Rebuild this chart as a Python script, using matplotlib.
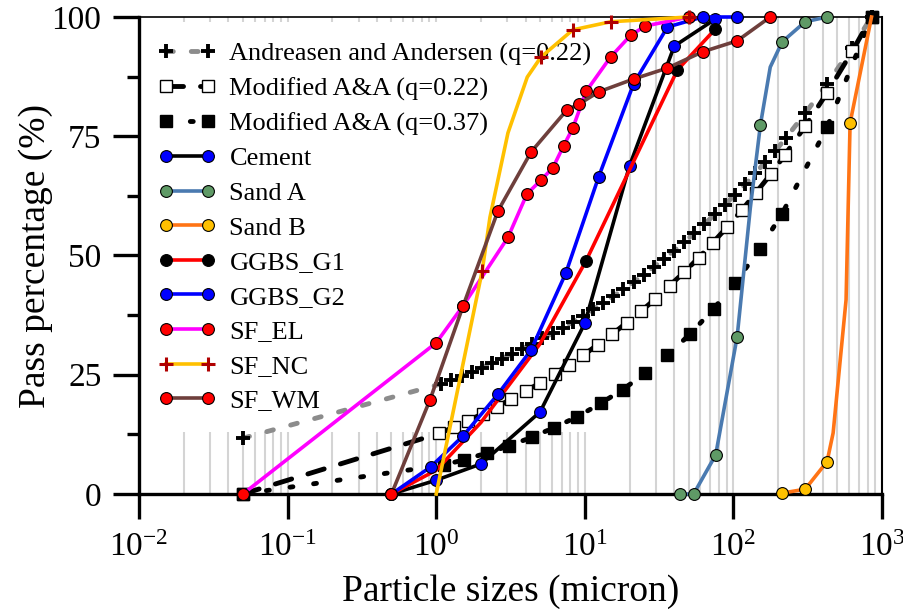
import matplotlib
matplotlib.use("Agg")
import matplotlib.pyplot as plt
from matplotlib.ticker import LogLocator, FixedLocator, NullFormatter

plt.rcParams['font.family'] = ['Liberation Serif', 'DejaVu Serif']
plt.rcParams['mathtext.fontset'] = 'custom'
plt.rcParams['mathtext.rm'] = 'Liberation Serif'
plt.rcParams['mathtext.it'] = 'Liberation Serif:italic'

# Andreasen and Andersen (q=0.22)
aa_x = [0.05, 1.08, 1.26, 1.48, 1.73, 2.02, 2.37, 2.77, 3.24, 3.79, 4.44,
        5.19, 6.07, 7.11, 8.31, 9.73, 11.4, 13.3, 15.6, 18.2, 21.3,
        24.9, 29.2, 34.1, 39.9, 46.7, 54.6, 63.9, 74.8, 87.5, 102,
        120, 140, 164, 192, 225, 304, 427, 630, 850]
aa_y = [11.7, 23.1, 23.9, 24.7, 25.6, 26.5, 27.4, 28.4, 29.4, 30.4, 31.5,
        32.6, 33.7, 34.9, 36.1, 37.4, 38.7, 40.1, 41.5, 42.9, 44.4,
        46.0, 47.6, 49.3, 51.0, 52.8, 54.7, 56.6, 58.6, 60.6, 62.7,
        64.9, 67.2, 69.6, 72.0, 74.6, 79.8, 86.0, 93.6, 100]

# Modified A&A (q=0.22)
m22_x = [0.05, 1.05, 1.31, 1.64, 2.05, 2.56, 3.20, 4.01, 5.01, 6.26, 7.82,
         9.78, 12.2, 15.3, 19.1, 23.9, 29.8, 37.3, 46.6, 58.3, 72.8,
         91.0, 114, 142, 178, 222, 304, 427, 630, 850]
m22_y = [0, 12.7, 14.0, 15.4, 16.8, 18.3, 19.9, 21.6, 23.3, 25.2, 27.1,
         29.1, 31.3, 33.5, 35.9, 38.3, 40.9, 43.7, 46.5, 49.5, 52.7,
         56.0, 59.5, 63.2, 67.0, 71.1, 77.1, 84.1, 92.8, 100]

# Modified A&A (q=0.37)
m37_x = [0.05, 1.13, 1.55, 2.2, 3.1, 4.4, 6.2, 8.9, 12.8, 18, 25.5, 36, 51,
         73.5, 103, 150, 213, 427, 850]
m37_y = [0, 6.1, 7.2, 8.6, 10.1, 11.9, 13.9, 16.2, 19.0, 21.9, 25.3, 29.1,
         33.5, 38.8, 44.3, 51.3, 58.8, 76.9, 100]

cement_x = [0.5, 1.0, 2.0, 5.0, 10, 20, 40, 75]
cement_y = [0, 2.9, 6.3, 17.2, 35.8, 68.8, 93.9, 99.5]

sanda_x = [44, 54, 76, 106, 130, 152, 177, 213, 304, 427]
sanda_y = [0, 0, 8.2, 33, 60, 77.4, 89.5, 94.8, 99.0, 100]
sanda_marks = [0, 1, 2, 3, 5, 7, 8, 9]

sandb_x = [213, 304, 427, 469, 573, 610, 850]
sandb_y = [0.2, 1.0, 6.8, 12.8, 40.7, 77.8, 100]
sandb_marks = [0, 1, 2, 5]

g1_x = [0.5, 1.0, 2.0, 5.0, 10.2, 20.4, 42, 75.7]
g1_y = [0, 5, 15, 31.5, 48.9, 68.5, 88.9, 97.5]
g1_marks = [4, 6, 7]

g2_x = [0.5, 0.92, 1.52, 2.6, 4.35, 7.45, 12.4, 21.3, 36, 62, 106]
g2_y = [0, 5.7, 12.2, 20.9, 30.2, 46.3, 66.5, 86.0, 97.9, 100, 100]

sfel_x = [0.05, 1.0, 1.52, 3.04, 4.08, 5.07, 6.1, 7.2, 8.3, 10.2, 14.9,
          20.4, 25.5, 50]
sfel_y = [0, 31.7, 39.5, 53.8, 62.9, 65.8, 68.4, 73.0, 76.7, 84.4, 91.6,
          96.2, 98.1, 100]

sfnc_x = [1.0, 2.04, 2.3, 3.04, 4.1, 5.07, 8.3, 14.9, 50]
sfnc_y = [0, 46.8, 58, 75.7, 87.4, 91.6, 97.3, 99.0, 100]
sfnc_marks = [1, 5, 6, 7, 8]

sfwm_x = [0.5, 0.91, 1.52, 2.6, 4.35, 7.57, 9.2, 12.4, 21.3, 36, 62, 106, 177]
sfwm_y = [0, 19.8, 39.5, 59.3, 71.7, 80.5, 81.8, 84.3, 87.0, 89.3, 92.7,
          95.0, 100]

fig = plt.figure(figsize=(9.04, 6.15), dpi=100)
ax = fig.add_axes([139 / 904, 1 - 494 / 615, (882 - 139) / 904, (494 - 17) / 615])

ax.set_xscale('log')
ax.set_xlim(1e-2, 1e3)
ax.set_ylim(0, 100)

ms = 8.5
kw = dict(lw=2.6, ms=ms, mec='black', mew=0.8, zorder=3, clip_on=False)

ax.plot(aa_x, aa_y, color='#8c8c8c', lw=3.5, ls=(0, (1.4, 3.7)),
        dash_capstyle='round', marker='+', ms=10, mec='black', mew=2.8,
        zorder=3, clip_on=False, label='Andreasen and Andersen (q=0.22)')
ax.plot(m22_x, m22_y, color='black', lw=3.5, ls=(0, (3.5, 3.5)),
        dash_capstyle='round', marker='s', ms=8, mfc='white', mec='black',
        mew=1.0, zorder=3, clip_on=False, label='Modified A&A (q=0.22)')
ax.plot(m37_x, m37_y, color='black', lw=3.5, ls=(0, (0.6, 4.3)),
        dash_capstyle='round', marker='s', ms=8.5, mfc='black', mec='black',
        zorder=3, clip_on=False, label='Modified A&A (q=0.37)')
ax.plot(cement_x, cement_y, color='black', marker='o', mfc='#0000ff',
        label='Cement', **kw)
ax.plot(sanda_x, sanda_y, color='#4a7ab0', marker='o', mfc='#5f9a66',
        markevery=sanda_marks, label='Sand A', **kw)
ax.plot(sandb_x, sandb_y, color='#ff7415', marker='o', mfc='#ffc000',
        markevery=sandb_marks, label='Sand B', **kw)
ax.plot(g1_x, g1_y, color='#ff0000', marker='o', mfc='black',
        markevery=g1_marks, label='GGBS_G1', **kw)
ax.plot(g2_x, g2_y, color='#0000ff', marker='o', mfc='#0000ff',
        label='GGBS_G2', **kw)
ax.plot(sfel_x, sfel_y, color='#ff00ff', marker='o', mfc='#ff0000',
        label='SF_EL', **kw)
ax.plot(sfnc_x, sfnc_y, color='#ffc000', lw=2.6, marker='+', ms=10,
        mec='#b00000', mew=2.2, markevery=sfnc_marks, zorder=3,
        clip_on=False, label='SF_NC')
ax.plot(sfwm_x, sfwm_y, color='#6e3f3c', marker='o', mfc='#ff0000',
        label='SF_WM', **kw)

# axes styling
ax.xaxis.set_major_locator(LogLocator(base=10, numticks=10))
ax.xaxis.set_minor_locator(LogLocator(base=10, subs=range(2, 10), numticks=20))
ax.xaxis.set_minor_formatter(NullFormatter())
ax.yaxis.set_major_locator(FixedLocator([0, 25, 50, 75, 100]))
ax.yaxis.set_minor_locator(FixedLocator([12.5, 37.5, 62.5, 87.5]))

ax.set_axisbelow(True)
ax.grid(True, which='both', axis='x', color='#d4d4d4', lw=1.5)

for side in ['left', 'bottom']:
    ax.spines[side].set_linewidth(2.4)
ax.spines['top'].set_linewidth(1.2)
ax.spines['right'].set_linewidth(1.5)

ax.tick_params(axis='x', which='major', direction='out', length=18, width=2.4,
               labelsize=24, pad=10)
ax.tick_params(axis='x', which='minor', length=0)
ax.tick_params(axis='y', which='major', direction='out', length=19, width=2.4,
               labelsize=24, pad=8)
ax.tick_params(axis='y', which='minor', direction='out', length=9, width=2.4)

ax.set_xlabel('Particle sizes (micron)', fontsize=27, labelpad=8)
ax.set_ylabel('Pass percentage (%)', fontsize=27, labelpad=-1)

leg = ax.legend(loc='upper left', bbox_to_anchor=(-0.008, 1.0), fontsize=19,
                frameon=True, fancybox=False, edgecolor='none',
                facecolor='white', framealpha=1, numpoints=2,
                handlelength=2.2, handletextpad=0.5, labelspacing=0.42,
                borderpad=0.75, borderaxespad=0.2)
leg.set_zorder(2)
for ln in leg.get_lines():
    ln.set_markevery(None)

fig.savefig('out.png', dpi=100)
